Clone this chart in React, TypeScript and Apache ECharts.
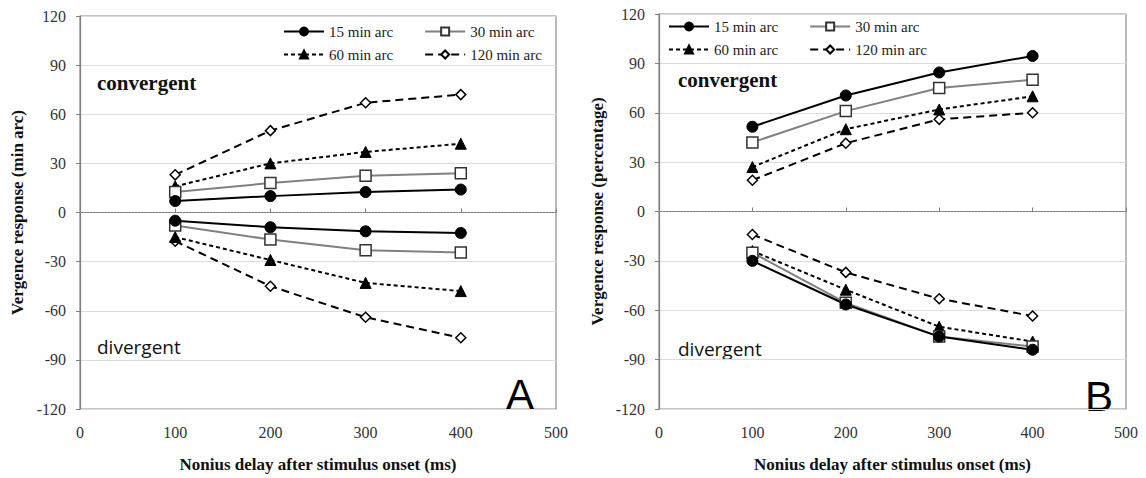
import React, { useEffect, useRef } from "react";
import * as echarts from "echarts";

const delays = [100, 200, 300, 400];
const legendNames = ["15 min arc", "30 min arc", "60 min arc", "120 min arc"];
const yTicks = [-120, -90, -60, -30, 0, 30, 60, 90, 120];

// Panel A: vergence response (min arc)
const aConv15 = [7, 10, 12.5, 14];
const aConv30 = [12.5, 18, 22.5, 24];
const aConv60 = [16, 30, 37, 42];
const aConv120 = [23, 50, 67, 72];
const aDiv15 = [-5, -9, -11.5, -12.5];
const aDiv30 = [-8, -16.5, -23, -24.5];
const aDiv60 = [-15, -29, -43, -48];
const aDiv120 = [-17.5, -45, -64, -76.5];

// Panel B: vergence response (percentage)
const bConv15 = [51.5, 70.5, 84.5, 94.5];
const bConv30 = [42, 61, 75, 80];
const bConv60 = [27, 50, 62, 70];
const bConv120 = [19, 41.5, 56, 60];
const bDiv15 = [-30, -56.5, -76, -84];
const bDiv30 = [-25, -55.5, -76, -82];
const bDiv60 = [-24, -47.5, -70, -79];
const bDiv120 = [-14, -37, -53, -63.5];

const SERIF = "'Liberation Serif', 'Times New Roman', serif";
const SANS = "'Liberation Sans', Arial, sans-serif";

const styles: any = {
  "15 min arc": { symbol: "circle", symbolSize: 11, line: { color: "#000", width: 2, type: "solid" }, item: { color: "#000", borderColor: "#000", borderWidth: 1 } },
  "30 min arc": { symbol: "rect", symbolSize: 11, line: { color: "#808080", width: 2, type: "solid" }, item: { color: "#fff", borderColor: "#333", borderWidth: 1.5 } },
  "60 min arc": { symbol: "triangle", symbolSize: 11, line: { color: "#000", width: 2, type: [4, 3] }, item: { color: "#000", borderColor: "#000", borderWidth: 1 } },
  "120 min arc": { symbol: "diamond", symbolSize: 10, line: { color: "#000", width: 2, type: [8, 5] }, item: { color: "#fff", borderColor: "#000", borderWidth: 1.5 } },
};

function mk(name: string, vals: number[], idx: number, zeroLine = false) {
  const s = styles[name];
  const out: any = {
    type: "line",
    name,
    xAxisIndex: idx,
    yAxisIndex: idx,
    data: delays.map((d, i) => [d, vals[i]]),
    symbol: s.symbol,
    symbolSize: s.symbolSize,
    showAllSymbol: true,
    lineStyle: s.line,
    itemStyle: s.item,
    emphasis: { disabled: true },
  };
  if (zeroLine) {
    out.markLine = {
      silent: true,
      symbol: "none",
      label: { show: false },
      lineStyle: { color: "#9a9a9a", type: [1, 2], width: 1 },
      data: [{ yAxis: 0 }],
    };
  }
  return out;
}

function axes(idx: number, yName: string, yGap: number) {
  const gridColor = "#dcdcdc";
  const splitColors = yTicks.map((t) => (t === 0 ? "rgba(0,0,0,0)" : gridColor));
  const x = {
    type: "value",
    gridIndex: idx,
    min: 0,
    max: 500,
    interval: 100,
    name: "Nonius delay after stimulus onset (ms)",
    nameLocation: "middle",
    nameGap: 47,
    nameTextStyle: { fontFamily: SERIF, fontWeight: "bold", fontSize: 17, color: "#111" },
    axisLine: { show: true, lineStyle: { color: "#7f7f7f", width: 1.2 } },
    axisTick: { show: true, inside: true, length: 4, lineStyle: { color: "#7f7f7f" } },
    axisLabel: { fontFamily: SERIF, fontSize: 16, color: "#333", margin: 15 },
    splitLine: { show: false },
  };
  const y = {
    type: "value",
    gridIndex: idx,
    min: -120,
    max: 120,
    interval: 30,
    name: yName,
    nameLocation: "middle",
    nameGap: yGap,
    nameTextStyle: { fontFamily: SERIF, fontWeight: "bold", fontSize: 17, color: "#111" },
    axisLine: { show: true, lineStyle: { color: "#7f7f7f", width: 1.2 } },
    axisTick: { show: true, inside: false, length: 4, lineStyle: { color: "#7f7f7f" } },
    axisLabel: { fontFamily: SERIF, fontSize: 16, color: "#333", margin: 14 },
    splitLine: { show: true, lineStyle: { color: splitColors, width: 1 } },
  };
  return { x, y };
}

function legendRow(names: string[], left: number, top: number) {
  return {
    data: names,
    left,
    top,
    padding: 0,
    orient: "horizontal",
    itemWidth: 40,
    itemHeight: 10,
    itemGap: 31,
    selectedMode: false,
    textStyle: { fontFamily: SERIF, fontSize: 15, color: "#222" },
  };
}

export default function App() {
  const ref = useRef<HTMLDivElement>(null);
  useEffect(() => {
    if (!ref.current) return;
    const chart = echarts.init(ref.current, undefined, { renderer: "svg" });
    const a = axes(0, "Vergence response (min arc)", 54);
    const b = axes(1, "Vergence response (percentage)", 53);
    const option: any = {
      animation: false,
      backgroundColor: "#fff",
      grid: [
        { left: 80, top: 16, width: 476, height: 403, show: true, borderColor: "#8c8c8c", borderWidth: 1.2, backgroundColor: "transparent" },
        { left: 659, top: 14, width: 467, height: 406, show: true, borderColor: "#8c8c8c", borderWidth: 1.2, backgroundColor: "transparent" },
      ],
      xAxis: [a.x, b.x],
      yAxis: [a.y, b.y],
      legend: [
        legendRow(legendNames.slice(0, 2), 283, 24),
        legendRow(legendNames.slice(2, 4), 283, 47),
        legendRow(legendNames.slice(0, 2), 668, 19),
        legendRow(legendNames.slice(2, 4), 668, 42),
      ],
      graphic: [
        { type: "text", left: 97, top: 72, style: { text: "convergent", font: `bold 21px ${SERIF}`, fill: "#111" } },
        { type: "text", left: 97, top: 337, style: { text: "divergent", font: `19px 'Open Sans', sans-serif`, fill: "#111" } },
        { type: "text", left: 506, top: 373, style: { text: "A", font: `42px ${SANS}`, fill: "#000" } },
        { type: "text", left: 678, top: 69, style: { text: "convergent", font: `bold 21px ${SERIF}`, fill: "#111" } },
        { type: "text", left: 678, top: 339, style: { text: "divergent", font: `19px 'Open Sans', sans-serif`, fill: "#111" } },
        { type: "text", left: 1085, top: 375, style: { text: "B", font: `42px ${SANS}`, fill: "#000" } },
      ],
      series: [
        mk("120 min arc", aConv120, 0, true),
        mk("60 min arc", aConv60, 0),
        mk("30 min arc", aConv30, 0),
        mk("15 min arc", aConv15, 0),
        mk("120 min arc", aDiv120, 0),
        mk("60 min arc", aDiv60, 0),
        mk("30 min arc", aDiv30, 0),
        mk("15 min arc", aDiv15, 0),
        mk("120 min arc", bConv120, 1, true),
        mk("60 min arc", bConv60, 1),
        mk("30 min arc", bConv30, 1),
        mk("15 min arc", bConv15, 1),
        mk("120 min arc", bDiv120, 1),
        mk("60 min arc", bDiv60, 1),
        mk("30 min arc", bDiv30, 1),
        mk("15 min arc", bDiv15, 1),
      ],
    };
    chart.setOption(option);
    return () => chart.dispose();
  }, []);
  return (
    <div
      ref={ref}
      style={{ position: "fixed", left: 0, top: 0, width: 1146, height: 478, background: "#fff" }}
    />
  );
}
